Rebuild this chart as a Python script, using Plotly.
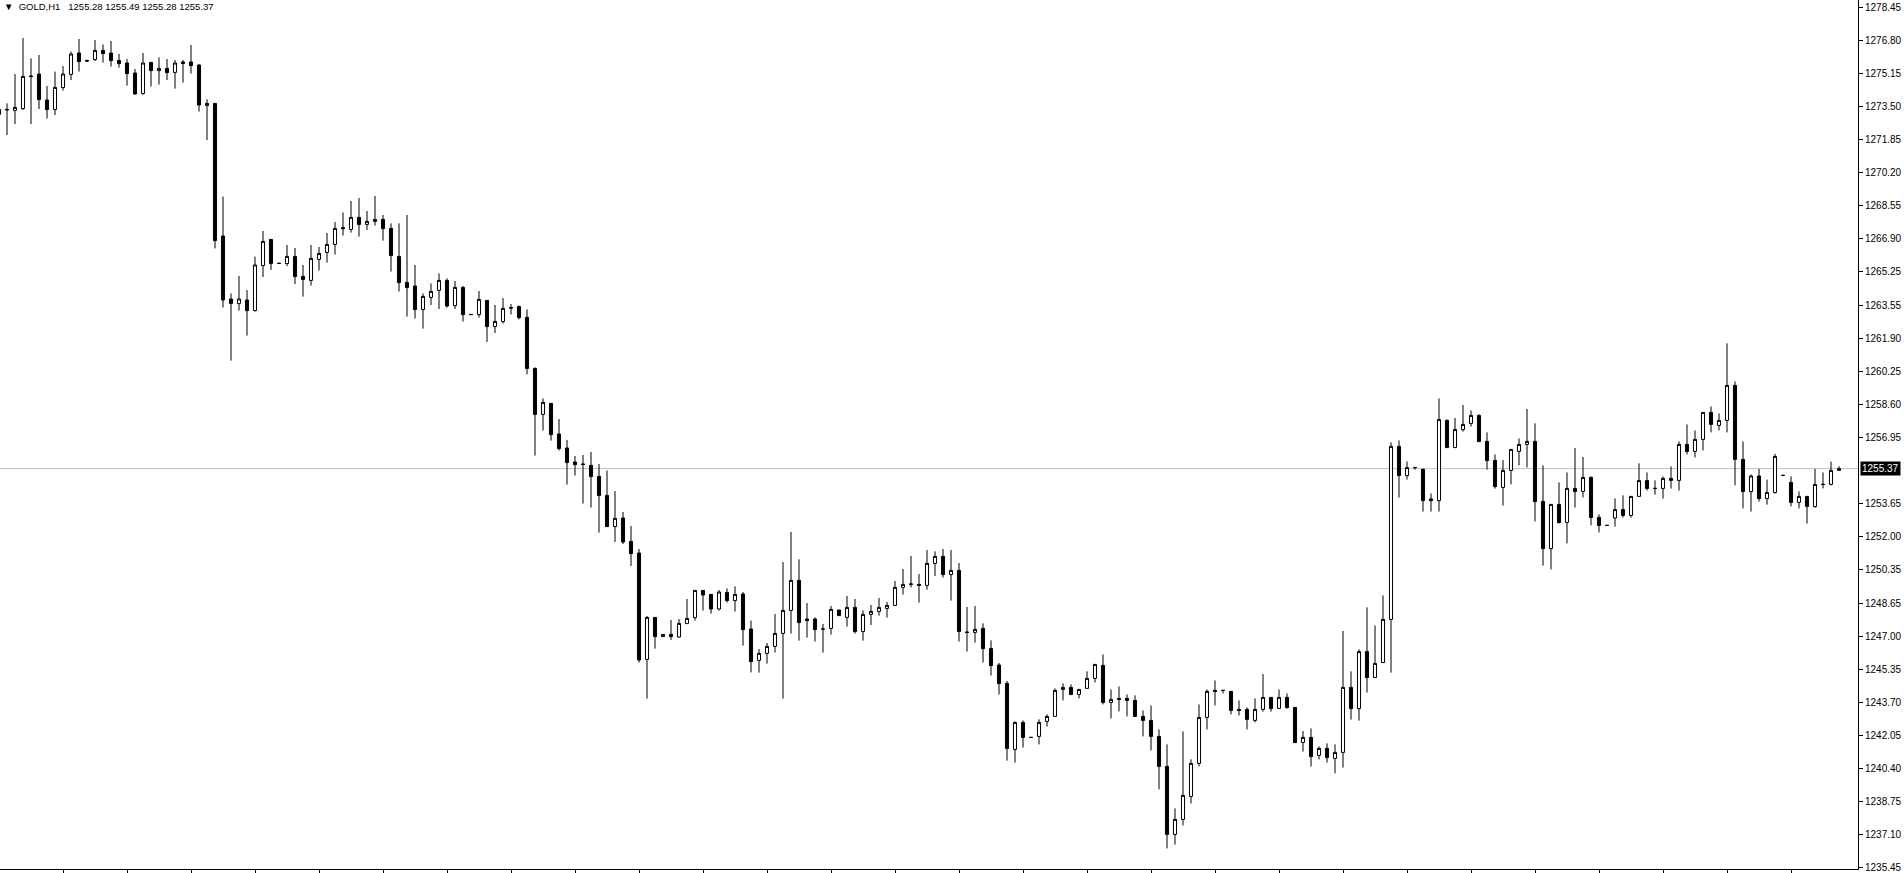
import plotly.graph_objects as go

# GOLD H1 bars (oldest first)
opens = [
    1273.08, 1273.33, 1273.28, 1273.37, 1275.00, 1275.10, 1273.80, 1273.32, 1274.42, 1275.08,
    1276.15, 1275.77, 1275.82, 1276.28, 1276.15, 1275.78, 1275.65, 1275.15, 1274.12, 1275.68,
    1275.27, 1275.38, 1275.18, 1275.70, 1275.70, 1275.55, 1273.52, 1273.63, 1267.00, 1263.85,
    1263.62, 1263.80, 1263.27, 1265.52, 1266.83, 1265.63, 1265.62, 1265.98, 1264.98, 1264.78,
    1265.83, 1266.18, 1266.58, 1267.42, 1267.33, 1267.93, 1267.58, 1267.73, 1267.83, 1267.38,
    1265.98, 1264.68, 1264.50, 1263.32, 1263.93, 1264.28, 1264.78, 1263.52, 1264.43, 1263.08,
    1263.07, 1263.78, 1262.47, 1262.72, 1263.42, 1263.47, 1262.93, 1260.38, 1258.08, 1258.63,
    1257.10, 1256.40, 1255.70, 1255.60, 1255.53, 1254.98, 1254.03, 1252.47, 1252.90, 1251.73,
    1251.15, 1245.83, 1247.93, 1246.97, 1247.08, 1246.95, 1247.62, 1247.92, 1249.28, 1249.08,
    1248.35, 1249.18, 1248.77, 1249.10, 1247.35, 1245.78, 1246.13, 1246.48, 1247.13, 1248.28,
    1249.78, 1247.85, 1247.85, 1247.35, 1247.38, 1248.30, 1247.93, 1248.43, 1247.22, 1248.08,
    1248.23, 1248.38, 1248.53, 1249.43, 1249.58, 1249.58, 1249.53, 1250.63, 1250.98, 1250.07,
    1250.28, 1247.20, 1247.18, 1247.38, 1246.38, 1245.55, 1244.63, 1241.33, 1242.68, 1241.93,
    1241.98, 1242.73, 1242.98, 1244.33, 1244.43, 1244.08, 1244.38, 1244.88, 1245.53, 1243.68,
    1243.88, 1243.88, 1243.78, 1242.98, 1242.78, 1241.98, 1240.48, 1237.08, 1237.83, 1238.98,
    1240.63, 1242.93, 1244.28, 1244.28, 1244.23, 1243.33, 1243.33, 1242.78, 1243.33, 1243.93,
    1243.38, 1243.93, 1243.43, 1241.68, 1241.93, 1241.03, 1241.38, 1240.88, 1241.18, 1244.43,
    1243.37, 1246.22, 1244.92, 1245.67, 1247.83, 1256.48, 1255.02, 1255.42, 1255.33, 1253.85,
    1253.77, 1257.78, 1256.42, 1257.32, 1257.63, 1258.03, 1256.73, 1255.78, 1254.43, 1255.28,
    1256.23, 1256.58, 1256.73, 1253.73, 1251.37, 1253.58, 1252.68, 1254.38, 1254.23, 1254.93,
    1252.93, 1252.53, 1252.90, 1253.32, 1253.03, 1253.98, 1254.77, 1254.38, 1254.38, 1254.88,
    1254.78, 1256.58, 1256.23, 1256.83, 1258.18, 1257.53, 1257.78, 1259.53, 1255.83, 1254.22,
    1255.00, 1253.87, 1254.17, 1255.03, 1254.68, 1253.68, 1253.98, 1253.47, 1254.58, 1254.58,
    1255.28,
]
highs = [
    1273.60, 1273.63, 1275.10, 1276.90, 1275.88, 1276.05, 1274.50, 1275.22, 1275.50, 1276.22,
    1276.85, 1275.82, 1276.80, 1276.58, 1276.75, 1276.10, 1275.85, 1275.35, 1276.15, 1275.70,
    1275.93, 1275.85, 1275.80, 1275.80, 1276.55, 1275.58, 1273.83, 1273.65, 1268.97, 1264.13,
    1265.00, 1264.30, 1265.97, 1267.25, 1266.85, 1265.67, 1266.55, 1266.40, 1265.55, 1266.55,
    1266.45, 1267.15, 1267.70, 1268.18, 1268.75, 1268.90, 1268.25, 1269.00, 1268.05, 1267.63,
    1267.63, 1268.05, 1265.55, 1264.13, 1264.63, 1265.13, 1264.88, 1264.75, 1264.50, 1263.10,
    1264.25, 1263.78, 1263.55, 1263.90, 1263.60, 1263.52, 1263.33, 1260.43, 1258.88, 1258.65,
    1257.85, 1256.80, 1256.00, 1256.05, 1256.20, 1255.60, 1255.27, 1254.25, 1253.20, 1252.50,
    1251.35, 1248.00, 1247.95, 1247.10, 1247.80, 1247.85, 1248.85, 1249.30, 1249.30, 1249.10,
    1249.30, 1249.38, 1249.48, 1249.20, 1247.77, 1246.35, 1246.65, 1248.10, 1250.70, 1252.20,
    1250.83, 1248.65, 1247.93, 1247.60, 1248.50, 1248.30, 1249.00, 1248.85, 1248.28, 1248.55,
    1248.90, 1248.70, 1249.75, 1250.35, 1251.00, 1250.10, 1251.30, 1251.23, 1251.35, 1251.30,
    1250.65, 1248.45, 1248.50, 1247.63, 1246.78, 1245.65, 1244.75, 1242.73, 1242.78, 1241.95,
    1242.83, 1243.08, 1244.38, 1244.63, 1244.58, 1244.33, 1245.23, 1245.58, 1246.08, 1244.33,
    1244.48, 1244.08, 1244.03, 1243.28, 1243.53, 1242.33, 1241.58, 1238.38, 1242.23, 1240.83,
    1243.58, 1244.33, 1244.78, 1244.30, 1244.25, 1243.78, 1243.43, 1243.88, 1245.10, 1243.93,
    1244.33, 1244.13, 1243.43, 1242.25, 1242.38, 1241.48, 1241.63, 1241.58, 1247.25, 1245.23,
    1246.33, 1248.43, 1247.53, 1249.03, 1256.68, 1256.78, 1255.73, 1255.45, 1255.38, 1254.13,
    1258.88, 1257.83, 1257.90, 1258.55, 1258.28, 1258.08, 1257.18, 1256.08, 1255.80, 1256.33,
    1256.88, 1258.35, 1257.63, 1255.53, 1253.58, 1254.68, 1255.18, 1256.40, 1255.95, 1254.98,
    1253.08, 1252.55, 1253.88, 1254.03, 1253.98, 1255.63, 1255.18, 1254.78, 1254.98, 1255.48,
    1256.73, 1257.58, 1257.28, 1258.18, 1258.48, 1258.13, 1261.63, 1259.73, 1256.73, 1255.08,
    1255.35, 1254.82, 1256.10, 1255.05, 1254.98, 1254.23, 1253.98, 1255.35, 1255.18, 1255.72,
    1255.49,
]
lows = [
    1272.13, 1272.05, 1272.60, 1273.30, 1272.60, 1273.35, 1272.87, 1273.05, 1274.27, 1274.80,
    1275.22, 1275.70, 1275.75, 1275.67, 1275.47, 1275.42, 1274.52, 1274.07, 1274.07, 1274.47,
    1274.57, 1274.80, 1274.37, 1274.67, 1275.12, 1273.22, 1271.80, 1266.38, 1263.43, 1260.77,
    1263.27, 1262.02, 1263.22, 1264.95, 1265.30, 1265.60, 1265.50, 1264.60, 1263.97, 1264.52,
    1265.27, 1265.67, 1266.07, 1267.02, 1267.17, 1266.97, 1267.30, 1267.52, 1266.77, 1265.22,
    1264.22, 1262.97, 1262.87, 1262.37, 1263.55, 1263.35, 1263.42, 1263.35, 1262.72, 1263.05,
    1262.92, 1261.70, 1262.15, 1262.62, 1263.08, 1262.83, 1260.08, 1256.02, 1257.27, 1256.77,
    1256.27, 1254.57, 1255.02, 1253.62, 1253.42, 1252.17, 1252.45, 1251.70, 1251.60, 1250.50,
    1245.67, 1243.87, 1246.37, 1246.95, 1246.80, 1246.92, 1247.62, 1247.77, 1248.27, 1248.12,
    1248.27, 1248.67, 1248.22, 1246.52, 1245.18, 1245.17, 1245.62, 1246.17, 1243.87, 1247.12,
    1246.77, 1246.92, 1246.72, 1246.17, 1247.07, 1248.02, 1247.47, 1247.12, 1246.77, 1247.55,
    1248.02, 1247.92, 1248.50, 1249.07, 1249.43, 1248.67, 1249.32, 1250.00, 1249.92, 1248.77,
    1246.72, 1246.22, 1246.67, 1245.67, 1245.02, 1244.07, 1240.77, 1240.67, 1241.42, 1241.90,
    1241.58, 1242.47, 1242.98, 1243.78, 1244.07, 1243.88, 1244.38, 1244.68, 1243.58, 1242.88,
    1243.23, 1242.98, 1242.98, 1241.98, 1241.28, 1239.33, 1236.38, 1236.57, 1237.53, 1238.63,
    1240.48, 1242.33, 1243.53, 1244.13, 1243.08, 1243.03, 1242.33, 1242.68, 1243.22, 1243.22,
    1243.38, 1243.37, 1241.67, 1241.22, 1240.47, 1240.83, 1240.67, 1240.13, 1240.42, 1242.82,
    1242.77, 1244.17, 1244.92, 1245.67, 1245.17, 1253.92, 1254.82, 1255.32, 1253.22, 1253.22,
    1253.22, 1256.42, 1256.42, 1257.22, 1257.47, 1256.72, 1255.32, 1254.37, 1253.52, 1254.58,
    1255.53, 1255.43, 1252.73, 1250.52, 1250.33, 1252.63, 1251.63, 1253.42, 1253.93, 1252.53,
    1252.18, 1252.50, 1252.47, 1252.92, 1252.92, 1253.98, 1254.27, 1254.07, 1253.87, 1254.37,
    1254.27, 1256.08, 1255.93, 1256.28, 1257.18, 1257.28, 1257.18, 1254.53, 1253.38, 1253.22,
    1253.72, 1253.57, 1254.12, 1255.00, 1253.48, 1253.38, 1252.62, 1253.42, 1254.38, 1254.53,
    1255.28,
]
closes = [
    1273.33, 1273.31, 1273.43, 1274.98, 1274.98, 1273.82, 1273.32, 1274.43, 1275.10, 1276.10,
    1275.72, 1275.75, 1276.28, 1276.12, 1275.77, 1275.62, 1275.12, 1274.10, 1275.65, 1275.27,
    1275.38, 1275.17, 1275.65, 1275.63, 1275.52, 1273.55, 1273.63, 1266.77, 1263.80, 1263.62,
    1263.85, 1263.27, 1265.55, 1266.73, 1265.62, 1265.63, 1265.98, 1264.97, 1264.83, 1265.88,
    1266.13, 1266.58, 1267.38, 1267.37, 1267.93, 1267.58, 1267.73, 1267.83, 1267.37, 1266.02,
    1264.67, 1264.42, 1263.32, 1263.98, 1264.23, 1264.78, 1263.50, 1264.43, 1263.07, 1263.07,
    1263.83, 1262.47, 1262.73, 1263.38, 1263.40, 1262.92, 1260.38, 1258.08, 1258.68, 1257.07,
    1256.37, 1255.67, 1255.57, 1255.58, 1254.97, 1254.02, 1252.47, 1252.88, 1251.70, 1251.12,
    1245.80, 1247.93, 1246.97, 1247.08, 1246.97, 1247.63, 1247.88, 1249.28, 1249.05, 1248.35,
    1249.20, 1248.77, 1249.08, 1247.32, 1245.72, 1246.13, 1246.48, 1247.13, 1248.28, 1249.78,
    1247.67, 1247.77, 1247.32, 1247.35, 1248.33, 1248.02, 1248.43, 1247.22, 1248.08, 1248.23,
    1248.43, 1248.53, 1249.43, 1249.58, 1249.60, 1249.53, 1250.63, 1250.98, 1250.07, 1250.28,
    1247.22, 1247.18, 1247.33, 1246.37, 1245.52, 1244.62, 1241.38, 1242.68, 1241.93, 1241.93,
    1242.68, 1242.98, 1244.28, 1244.43, 1244.07, 1244.33, 1244.88, 1245.58, 1243.68, 1243.83,
    1243.83, 1243.78, 1242.98, 1242.78, 1241.98, 1240.48, 1237.08, 1237.83, 1239.03, 1240.63,
    1242.93, 1244.23, 1244.23, 1244.28, 1243.28, 1243.28, 1242.83, 1243.33, 1243.93, 1243.37,
    1243.93, 1243.42, 1241.67, 1241.93, 1240.97, 1241.38, 1240.92, 1241.18, 1244.43, 1243.37,
    1246.22, 1244.92, 1245.63, 1247.83, 1256.48, 1255.02, 1255.42, 1255.42, 1253.77, 1253.77,
    1257.82, 1256.42, 1257.33, 1257.58, 1258.03, 1256.72, 1255.77, 1254.47, 1255.28, 1256.33,
    1256.58, 1256.73, 1253.72, 1251.37, 1253.58, 1252.67, 1254.38, 1254.22, 1254.93, 1252.93,
    1252.53, 1252.53, 1253.32, 1253.03, 1253.98, 1254.77, 1254.38, 1254.38, 1254.88, 1254.78,
    1256.58, 1256.23, 1256.83, 1258.18, 1257.58, 1257.78, 1259.53, 1255.83, 1254.22, 1255.00,
    1253.87, 1254.18, 1255.98, 1255.03, 1253.68, 1253.98, 1253.48, 1254.58, 1254.58, 1255.28,
    1255.37,
]

price_ticks = [1278.45, 1276.80, 1275.15, 1273.50, 1271.85, 1270.20, 1268.55, 1266.90,
               1265.25, 1263.55, 1261.90, 1260.25, 1258.60, 1256.95, 1253.65, 1252.00,
               1250.35, 1248.65, 1247.00, 1245.35, 1243.70, 1242.05, 1240.40, 1238.75,
               1237.10, 1235.45]
last_price = closes[-1]
bars = list(range(len(closes)))

fig = go.Figure(go.Candlestick(
    x=bars, open=opens, high=highs, low=lows, close=closes,
    increasing=dict(fillcolor='white', line=dict(color='black', width=1)),
    decreasing=dict(fillcolor='black', line=dict(color='black', width=1)),
    whiskerwidth=0,
    hoverinfo='skip',
))

# current bid line
fig.add_hline(y=last_price, line=dict(color='#c0c0c0', width=1), layer='below')

fig.add_annotation(x=1, xref='paper', y=last_price, yref='y', xanchor='left', xshift=2,
                   text='%.2f' % last_price, showarrow=False, bgcolor='black', borderpad=1,
                   font=dict(family='Liberation Sans', size=10, color='white'))

title = '\u25bc\u00a0 GOLD,H1\u00a0\u00a0 %.2f %.2f %.2f %.2f' % (opens[-1], highs[-1], lows[-1], closes[-1])
fig.add_annotation(x=0, xref='paper', y=1, yref='paper', xanchor='left', yanchor='top',
                   xshift=2, yshift=1, text=title, showarrow=False,
                   font=dict(family='Liberation Sans', size=9.5, color='black'))

fig.update_layout(
    width=1904, height=873,
    margin=dict(l=0, r=46, t=0, b=4),
    paper_bgcolor='white', plot_bgcolor='white',
    showlegend=False,
    boxgap=0.45,
    xaxis=dict(range=[0.125, 232.375], showgrid=False, zeroline=False,
               showline=True, linecolor='black', linewidth=1,
               ticks='outside', ticklen=5, tickcolor='black',
               tickvals=list(range(8, 232, 8)), showticklabels=False,
               rangeslider=dict(visible=False), fixedrange=True),
    yaxis=dict(side='right', range=[1235.35, 1278.80], showgrid=False, zeroline=False,
               showline=True, linecolor='black', linewidth=1,
               ticks='outside', ticklen=4, tickcolor='black',
               tickvals=price_ticks, ticktext=['%.2f' % v for v in price_ticks],
               tickfont=dict(family='Liberation Sans', size=10, color='black'),
               fixedrange=True),
)

fig.write_html("out.html", config={'displayModeBar': False},
               post_script="document.body.style.margin='0';document.body.style.overflow='hidden';")
